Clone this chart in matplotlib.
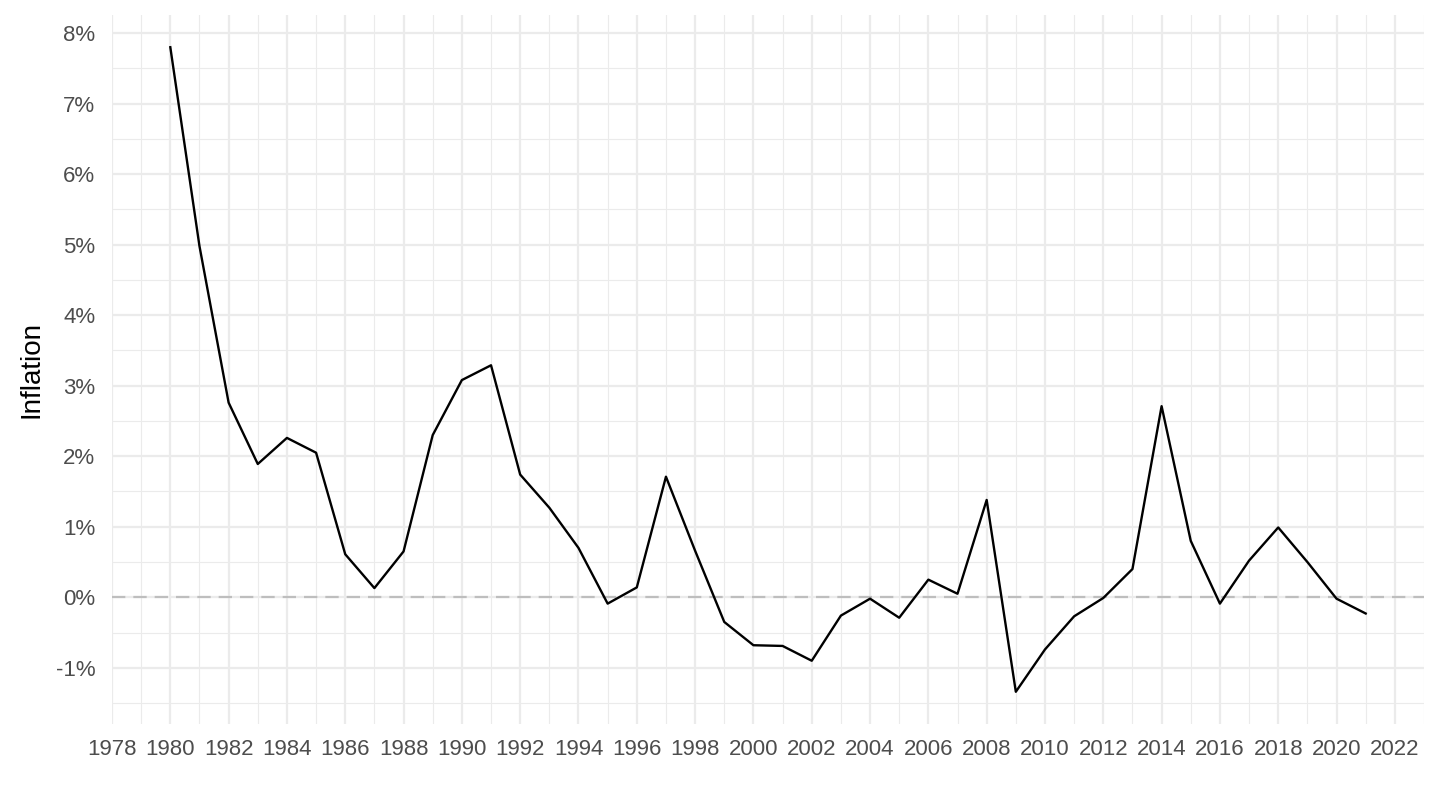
import numpy as np
import matplotlib.pyplot as plt
from matplotlib.ticker import MultipleLocator, FuncFormatter

plt.rcParams['font.family'] = ['Liberation Sans', 'DejaVu Sans']

# yearly inflation (%)
years = list(range(1980, 2022))
inflation = [7.80, 4.98, 2.76, 1.89, 2.26, 2.05, 0.61, 0.13, 0.65, 2.30,
             3.08, 3.29, 1.74, 1.27, 0.70, -0.09, 0.14, 1.71, 0.66, -0.35,
             -0.68, -0.69, -0.90, -0.26, -0.02, -0.29, 0.25, 0.05, 1.38, -1.34,
             -0.74, -0.27, -0.01, 0.40, 2.71, 0.80, -0.09, 0.52, 0.99, 0.50,
             -0.02, -0.23]
x_ticks = list(range(1978, 2023, 2))

fig = plt.figure(figsize=(14.4, 8.1), dpi=100)
ax = fig.add_axes([112/1440, 1-724/810, (1424-112)/1440, (724-15)/810])

lo, hi = min(inflation), max(inflation)
pad = 0.05*(hi-lo)
ax.set_ylim(lo-pad, hi+pad)
ax.set_xlim(1978, 2023)

ax.xaxis.set_major_locator(plt.FixedLocator(x_ticks))
ax.xaxis.set_minor_locator(MultipleLocator(1))
ax.yaxis.set_major_locator(MultipleLocator(1))
ax.yaxis.set_minor_locator(MultipleLocator(0.5))
ax.yaxis.set_major_formatter(FuncFormatter(lambda v, p: f"{v:.0f}%"))

ax.grid(which='major', color='#EBEBEB', lw=1.6)
ax.grid(which='minor', color='#EBEBEB', lw=0.8)
ax.set_axisbelow(True)
for s in ax.spines.values():
    s.set_visible(False)
ax.tick_params(which='both', length=0, labelsize=16, labelcolor='#4D4D4D')
ax.tick_params(axis='x', pad=11)
ax.tick_params(axis='y', pad=12)

ax.axhline(0, color='#BEBEBE', lw=1.6, dashes=(6.0, 3.6), zorder=2)
ax.plot(years, inflation, color='black', lw=1.7, zorder=3)

ax.set_ylabel('Inflation', fontsize=20, labelpad=8)
ax.set_xlabel('')

fig.savefig('out.png', dpi=100)
